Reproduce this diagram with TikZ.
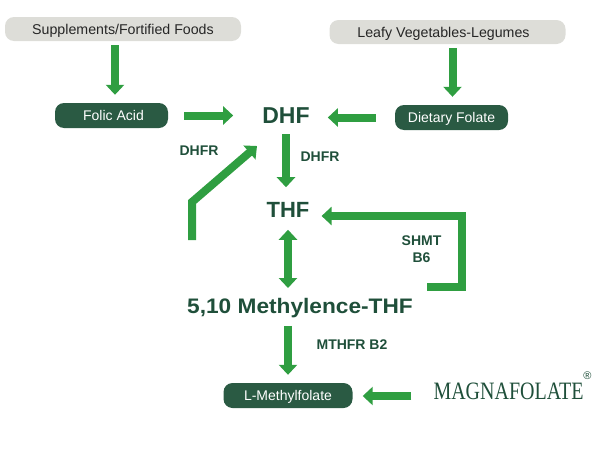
\documentclass[tikz,border=0pt]{standalone}
\usepackage{fontspec}
\setmainfont{Liberation Sans}
\newfontfamily\serifname{Liberation Serif}
\usetikzlibrary{arrows.meta}
\definecolor{leafgreen}{HTML}{2F9E41}
\definecolor{pinegreen}{HTML}{2A5A43}
\definecolor{textgreen}{HTML}{1F4F3A}
\definecolor{sourcegrey}{HTML}{DDDDD8}
\tikzset{
  source/.style={fill=sourcegrey, rounded corners=9pt, minimum width=236pt, minimum height=24pt, font=\fontsize{14.2}{16}\selectfont, text=black!85, inner sep=0pt, text height=10pt, text depth=0pt},
  folate/.style={fill=pinegreen, rounded corners=9pt, minimum height=25pt, font=\fontsize{14}{16}\selectfont, text=white, inner sep=0pt, text height=10pt, text depth=0pt},
  compound/.style={font=\bfseries\fontsize{23}{28}\selectfont, text=textgreen, inner sep=0pt},
  enzyme/.style={font=\bfseries\fontsize{14}{16}\selectfont, text=textgreen, inner sep=0pt, align=center},
  flow/.style={draw=leafgreen, line width=8pt, -{Triangle[length=10pt,width=18pt]}},
  flowboth/.style={draw=leafgreen, line width=8pt, {Triangle[length=10pt,width=18pt]}-{Triangle[length=10pt,width=18pt]}}
}
\begin{document}
\begin{tikzpicture}[x=1pt,y=-1pt]
\useasboundingbox (0,0) rectangle (600,450);
% sources
\node[source] (supplements) at (123,29) {Supplements/Fortified Foods};
\node[source] (leafy) at (447.5,32) {Leafy Vegetables-Legumes\hspace*{8pt}};
% boxes
\node[folate, minimum width=113pt] (folic) at (111.5,115.5) {\hspace*{4pt}Folic Acid};
\node[folate, minimum width=113pt] (dietary) at (451.5,117.5) {Dietary Folate};
\node[folate, minimum width=129pt] (lmethyl) at (288,395.5) {L-Methylfolate};
% compounds
\node[compound] (dhf) at (286,116) {DHF};
\node[compound, font=\bfseries\fontsize{22}{26}\selectfont] (thf) at (288,210) {THF};
\node[compound, font=\bfseries\fontsize{21}{25}\selectfont, xscale=1.08] (methylene) at (300,308) {5,10 Methylence-THF};
\node[inner sep=0pt, text=textgreen, font=\serifname\fontsize{25}{28}\selectfont, xscale=0.8] (magna) at (508.5,391) {MAGNAFOLATE};
\node[inner sep=0pt, text=textgreen, font=\fontsize{11}{12}\selectfont] (reg) at (587.5,376) {®};
% enzymes
\node[enzyme] (dhfrleft) at (199,151) {DHFR};
\node[enzyme] (dhfrright) at (320,157) {DHFR};
\node[enzyme] (shmt) at (421.5,249.5) {SHMT\\[1pt]B6};
\node[enzyme] (mthfr) at (352,345) {MTHFR B2};
% free ends of the two bent arrows
\coordinate (bentstart) at (192,240);
\coordinate (bentknee) at (192,202);
\coordinate (bentend) at (257,146);
\coordinate (loopstart) at (427,287);
\coordinate (loopfoot) at (462,287);
\coordinate (looptop) at (462,216);
% arrows
\draw[flow, shorten <=4pt, shorten >=8pt] ([xshift=3.5pt]folic.north |- supplements.south) -- ([xshift=3.5pt]folic.north);
\draw[flow, shorten <=4pt, shorten >=8pt] ([xshift=1pt]dietary.north |- leafy.south) -- ([xshift=1pt]dietary.north);
\draw[flow, shorten <=16pt, shorten >=29pt] (folic.east) -- (dhf.west |- folic.east);
\draw[flow, shorten <=19pt, shorten >=18pt] (dietary.west) -- (dhf.east |- dietary.west);
\draw[flow, shorten <=10pt, shorten >=15pt] (dhf.south) -- (dhf.south |- thf.north);
\draw[line join=miter, flow] (bentstart) -- (bentknee) -- (bentend);
\draw[flowboth, shorten <=12pt, shorten >=10pt] (thf.south) -- (thf.south |- methylene.north);
\draw[line join=miter, flow, shorten >=12pt] (loopstart) -- (loopfoot) -- (looptop) -- (thf.east |- looptop);
\draw[flow, shorten <=8pt, shorten >=8pt] (methylene.south -| lmethyl.north) -- (lmethyl.north);
\draw[flow, shorten <=22pt, shorten >=10pt] (magna.west |- 0,396) -- (lmethyl.east |- 0,396);
\end{tikzpicture}
\end{document}
